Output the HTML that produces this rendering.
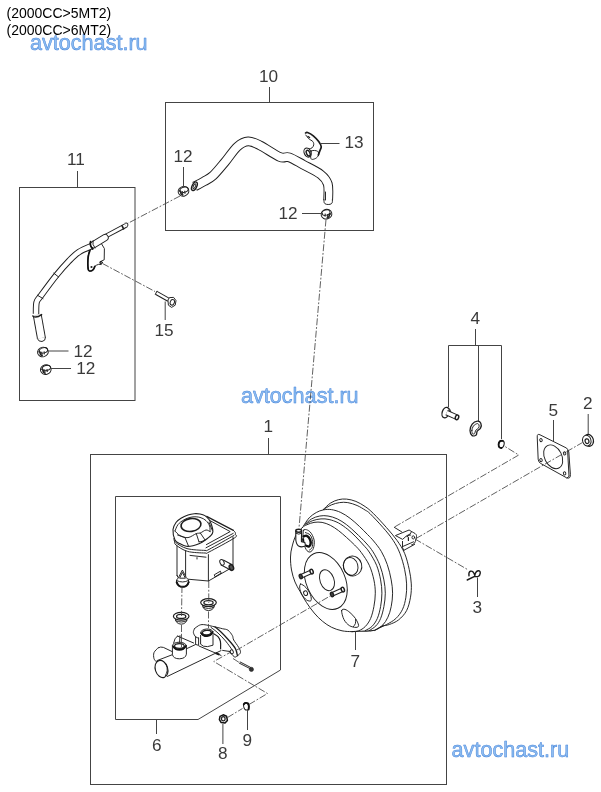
<!DOCTYPE html>
<html lang="en">
<head>
<meta charset="utf-8">
<title>Brake master cylinder and booster</title>
<style>
html,body{margin:0;padding:0;background:#fff;}
body{width:601px;height:792px;overflow:hidden;position:relative;font-family:"Liberation Sans",sans-serif;}
svg{position:absolute;left:0;top:0;display:block;will-change:transform;}
.t{font-family:"Liberation Sans",sans-serif;font-size:14px;fill:#000;}
.n{font-family:"Liberation Sans",sans-serif;font-size:17.2px;fill:#3a3a3a;}
.w{font-family:"Liberation Sans",sans-serif;font-size:21.6px;fill:#8fbef1;stroke:#4588dc;stroke-width:0.5;stroke-linejoin:round;}
.l{fill:none;stroke:#444;stroke-width:1;}
.p{fill:none;stroke:#1e1e1e;stroke-width:0.95;stroke-linejoin:round;stroke-linecap:round;}
.pf{fill:#fff;stroke:#1e1e1e;stroke-width:0.95;stroke-linejoin:round;stroke-linecap:round;}
.d{fill:none;stroke:#444;stroke-width:0.85;stroke-dasharray:7 1.8 1.8 1.8;}
</style>
</head>
<body>
<svg width="601" height="792" viewBox="0 0 601 792">
<rect x="0" y="0" width="601" height="792" fill="#fff"/>



<defs>
<filter id="glow" x="-5%" y="-30%" width="110%" height="160%">
<feGaussianBlur in="SourceAlpha" stdDeviation="0.55" result="b"/>
<feOffset in="b" dx="0.3" dy="0.3" result="o"/>
<feFlood flood-color="#c9dff8"/>
<feComposite in2="o" operator="in" result="g"/>
<feMerge><feMergeNode in="g"/><feMergeNode in="SourceGraphic"/></feMerge>
</filter>
</defs>
<g id="watermarks" filter="url(#glow)">
<text class="w" x="30" y="50.300">avtochast.ru</text>
<text class="w" x="241" y="403.300">avtochast.ru</text>
<text class="w" x="451.600" y="756.800">avtochast.ru</text>
</g>

<g id="title">
<text class="t" x="6.5" y="17.600">(2000CC&gt;5MT2)</text>
<text class="t" x="6.5" y="35">(2000CC&gt;6MT2)</text>
</g>

<g id="frames" class="l">
<rect x="19.5" y="187.5" width="115.5" height="213"/>
<rect x="165.5" y="102.5" width="208" height="128"/>
<rect x="90.5" y="454.5" width="356" height="330"/>
<path d="M115.5 496.5H280.5V670L198 719.5H115.5Z"/>
<path d="M448.5 407V345.5H501.5V439M478.5 345.5V421"/>
</g>

<g id="booster7">
<path class="pf" d="M303.5 525.9C305.72 523.02 307.17 519.93 309.3 517.7C311.43 515.47 313.97 513.8 316.3 512.5C318.63 511.2 320.97 511.45 323.3 509.9C325.63 508.35 327.78 504.9 330.3 503.2C332.82 501.5 335.68 500.38 338.4 499.7C341.12 499.02 343.68 498.82 346.6 499.1C349.52 499.38 352.8 500.15 355.9 501.4C359 502.65 362.32 504.62 365.2 506.6C368.08 508.58 369.65 509.8 373.2 513.3C376.75 516.8 382.53 523.08 386.5 527.6C390.47 532.12 393.98 536.12 397 540.4C400.02 544.68 402.57 548.48 404.6 553.3C406.63 558.12 408.08 564.2 409.2 569.3C410.32 574.4 411.08 579.25 411.3 583.9C411.52 588.55 411.28 592.75 410.5 597.2C409.72 601.65 408.58 606.82 406.6 610.6C404.62 614.38 401.48 617.58 398.6 619.9C395.72 622.22 391.97 623.5 389.3 624.5C386.63 625.5 385.05 624.9 382.6 625.9C380.15 626.9 377.48 629.65 374.6 630.5C371.72 631.35 367.97 630.88 365.3 631C362.63 631.12 360.82 631.1 358.6 631.2C356.38 631.3 354.77 631.67 352 631.6C349.23 631.53 345.4 631.52 342 630.8C338.6 630.08 334.87 628.9 331.6 627.3C328.33 625.7 325.3 623.58 322.4 621.2C319.5 618.82 316.87 616.13 314.2 613C311.53 609.87 308.77 606 306.4 602.4C304.03 598.8 301.9 594.8 300 591.4C298.1 588 296.42 585.57 295 582C293.58 578.43 292.25 574.17 291.5 570C290.75 565.83 290.42 560.83 290.5 557C290.58 553.17 291.08 550.67 292 547C292.92 543.33 294.08 538.52 296 535C297.92 531.48 301.28 528.78 303.5 525.9Z" style="stroke:none"/>
<path class="p" d="M323.3 509.6C324.47 508.53 327.78 504.85 330.3 503.2C332.82 501.55 335.68 500.38 338.4 499.7C341.12 499.02 343.68 498.82 346.6 499.1C349.52 499.38 352.8 500.15 355.9 501.4C359 502.65 362.32 504.62 365.2 506.6C368.08 508.58 369.65 509.8 373.2 513.3C376.75 516.8 382.53 523.08 386.5 527.6C390.47 532.12 393.98 536.12 397 540.4C400.02 544.68 402.57 548.48 404.6 553.3C406.63 558.12 408.08 564.2 409.2 569.3C410.32 574.4 411.08 579.25 411.3 583.9C411.52 588.55 411.28 592.75 410.5 597.2C409.72 601.65 408.58 606.82 406.6 610.6C404.62 614.38 401.48 617.58 398.6 619.9C395.72 622.22 391.97 623.5 389.3 624.5C386.63 625.5 383.72 625.67 382.6 625.9"/>
<path class="p" d="M323.3 509.6C324.65 508.82 328.68 506.07 331.4 504.9C334.12 503.73 336.87 502.98 339.6 502.6C342.33 502.22 344.88 502.12 347.8 502.6C350.72 503.08 354.2 504.25 357.1 505.5C360 506.75 363.05 508.75 365.2 510.1C367.35 511.45 367.03 510.7 370 513.6C372.97 516.5 379.13 523.03 383 527.5C386.87 531.97 390.38 536.1 393.2 540.4C396.02 544.7 398 548.48 399.9 553.3C401.8 558.12 403.48 564.2 404.6 569.3C405.72 574.4 406.38 579.25 406.6 583.9C406.82 588.55 406.57 592.98 405.9 597.2C405.23 601.42 404.27 605.65 402.6 609.2C400.93 612.75 398.57 615.95 395.9 618.5C393.23 621.05 389.27 623.05 386.6 624.5C383.93 625.95 381.02 626.75 379.9 627.2"/>
<path class="p" d="M303.5 525.9C304.47 524.53 307.17 519.93 309.3 517.7C311.43 515.47 313.97 513.8 316.3 512.5C318.63 511.2 320.78 510.38 323.3 509.9C325.82 509.42 328.48 509.17 331.4 509.6C334.32 510.03 337.68 511.05 340.8 512.5C343.92 513.95 347 515.98 350.1 518.3C353.2 520.62 356.48 523.68 359.4 526.4C362.32 529.12 365.23 532.17 367.6 534.6C369.97 537.03 371.32 538.2 373.6 541C375.88 543.8 379.02 547.47 381.3 551.4C383.58 555.33 385.65 559.85 387.3 564.6C388.95 569.35 390.32 575.13 391.2 579.9C392.08 584.67 392.6 588.75 392.6 593.2C392.6 597.65 391.98 602.6 391.2 606.6C390.42 610.6 389.33 614.1 387.9 617.2C386.47 620.3 384.82 622.98 382.6 625.2C380.38 627.42 375.93 629.62 374.6 630.5"/>
<path class="p" d="M304.7 524.7C305.85 523.73 309.08 520.35 311.6 518.9C314.12 517.45 317.07 516.48 319.8 516C322.53 515.52 325.08 515.52 328 516C330.92 516.48 334.2 517.45 337.3 518.9C340.4 520.35 343.48 522.35 346.6 524.7C349.72 527.05 352.77 529.95 356 533C359.23 536.05 363.17 539.87 366 543C368.83 546.13 370.68 548.08 373 551.8C375.32 555.52 378.08 560.62 379.9 565.3C381.72 569.98 383 575.25 383.9 579.9C384.8 584.55 385.3 588.75 385.3 593.2C385.3 597.65 384.68 602.38 383.9 606.6C383.12 610.82 381.93 615.28 380.6 618.5C379.27 621.72 377.78 623.9 375.9 625.9C374.02 627.9 370.4 629.73 369.3 630.5"/>
<path class="p" d="M305.8 524.1C306.97 523.52 310.27 521.47 312.8 520.6C315.33 519.73 318.28 519.08 321 518.9C323.72 518.72 326.2 518.83 329.1 519.5C332 520.17 335.28 521.25 338.4 522.9C341.52 524.55 344.88 527.07 347.8 529.4C350.72 531.73 353.3 534.3 355.9 536.9C358.5 539.5 361.18 542.48 363.4 545C365.62 547.52 367 548.62 369.2 552C371.4 555.38 374.7 560.65 376.6 565.3C378.5 569.95 379.72 575.25 380.6 579.9C381.48 584.55 381.9 588.75 381.9 593.2C381.9 597.65 381.37 602.38 380.6 606.6C379.83 610.82 378.75 615.18 377.3 618.5C375.85 621.82 373.9 624.5 371.9 626.5C369.9 628.5 366.4 629.83 365.3 630.5"/>
<path class="p" d="M302.3 527.6C304.13 525.88 305.05 525.57 307 524.7C308.95 523.83 311.48 522.78 314 522.4C316.52 522.02 319.38 521.92 322.1 522.4C324.82 522.88 327.58 523.95 330.3 525.3C333.02 526.65 335.68 528.47 338.4 530.5C341.12 532.53 343.9 535.08 346.6 537.5C349.3 539.92 352.17 542.52 354.6 545C357.03 547.48 358.75 549.02 361.2 552.4C363.65 555.78 367.18 560.72 369.3 565.3C371.42 569.88 372.9 575.25 373.9 579.9C374.9 584.55 375.3 588.75 375.3 593.2C375.3 597.65 374.68 602.38 373.9 606.6C373.12 610.82 372.03 615.18 370.6 618.5C369.17 621.82 367.3 624.45 365.3 626.5C363.3 628.55 360.82 629.95 358.6 630.8C356.38 631.65 354.77 631.6 352 631.6C349.23 631.6 345.4 631.52 342 630.8C338.6 630.08 334.87 628.9 331.6 627.3C328.33 625.7 325.3 623.58 322.4 621.2C319.5 618.82 316.87 616.13 314.2 613C311.53 609.87 308.77 606 306.4 602.4C304.03 598.8 301.9 594.8 300 591.4C298.1 588 296.42 585.57 295 582C293.58 578.43 292.25 574.17 291.5 570C290.75 565.83 290.42 560.83 290.5 557C290.58 553.17 291.08 550.67 292 547C292.92 543.33 294.28 538.23 296 535C297.72 531.77 300.47 529.32 302.3 527.6Z"/>
<path class="p" d="M352 631.6C353.1 631.55 356.38 631.38 358.6 631.3C360.82 631.22 363.52 631.17 365.3 631.1C367.08 631.03 367.75 631.03 369.3 630.9C370.85 630.77 372.83 630.85 374.6 630.3C376.37 629.75 378.5 628.35 379.9 627.6C381.3 626.85 382.48 626.1 383 625.8" style="stroke-width:1.15"/>
<ellipse class="p" cx="325.8" cy="581" rx="19.4" ry="29.8" transform="rotate(-24 325.8 581)"/>
<ellipse class="p" cx="327" cy="580.2" rx="7" ry="10.8" transform="rotate(-20 327 580.2)"/>
<ellipse class="p" cx="352.6" cy="566" rx="9.2" ry="10" transform="rotate(-15 352.6 566)"/>
<ellipse class="p" cx="350.7" cy="566.4" rx="7.2" ry="9" transform="rotate(-15 350.7 566.4)"/>
<path class="p" d="M341.6 610.6C341.77 608.9 343.6 609.07 345 609.4C346.4 609.73 348.27 611.1 350 612.6C351.73 614.1 353.97 616.27 355.4 618.4C356.83 620.53 358.5 623.9 358.6 625.4C358.7 626.9 357.53 627.37 356 627.4C354.47 627.43 351.4 626.9 349.4 625.6C347.4 624.3 345.3 622.1 344 619.6C342.7 617.1 341.43 612.3 341.6 610.6Z"/>
<path class="p" d="M355.6 619.4C355.57 620.1 355.77 622.4 355.4 623.6C355.03 624.8 353.73 626.1 353.4 626.6"/>
<path class="p" d="M300.6 584C301.63 583.87 304.37 585.83 306 587.6C307.63 589.37 309.57 592.43 310.4 594.6C311.23 596.77 311.63 599.7 311 600.6C310.37 601.5 308.1 601 306.6 600C305.1 599 303.13 596.53 302 594.6C300.87 592.67 300.03 590.17 299.8 588.4C299.57 586.63 299.57 584.13 300.6 584Z"/>
<ellipse class="p" cx="305.6" cy="593.2" rx="1.9" ry="2.4" transform="rotate(-20 305.6 593.2)"/>
<path d="M300.4 576.6 L311.6 571.6" fill="none" stroke="#1e1e1e" stroke-width="4.55" stroke-linecap="butt" stroke-linejoin="round"/>
<path d="M300.4 576.6 L311.6 571.6" fill="none" stroke="#fff" stroke-width="2.65" stroke-linecap="butt" stroke-linejoin="round"/>
<ellipse class="pf" cx="311.6" cy="571.6" rx="1.5" ry="2.4" transform="rotate(-20 311.6 571.6)" style="stroke-width:1.5"/>
<ellipse class="pf" cx="300.8" cy="576.5" rx="1.5" ry="2.3" transform="rotate(-20 300.8 576.5)" style="stroke-width:1.3;fill:#444"/>
<path d="M331.6 594.6 L342.8 589.6" fill="none" stroke="#1e1e1e" stroke-width="4.55" stroke-linecap="butt" stroke-linejoin="round"/>
<path d="M331.6 594.6 L342.8 589.6" fill="none" stroke="#fff" stroke-width="2.65" stroke-linecap="butt" stroke-linejoin="round"/>
<ellipse class="pf" cx="342.8" cy="589.6" rx="1.5" ry="2.4" transform="rotate(-20 342.8 589.6)" style="stroke-width:1.5"/>
<ellipse class="pf" cx="332" cy="594.5" rx="1.5" ry="2.3" transform="rotate(-20 332 594.5)" style="stroke-width:1.3;fill:#444"/>
<path class="pf" d="M303.7 530C304.8 528.47 308.27 530.13 310 531.8C311.73 533.47 313.53 537.25 314.1 540C314.67 542.75 314.08 546.3 313.4 548.3C312.72 550.3 311.2 551.78 310 552C308.8 552.22 307.3 551.43 306.2 549.6C305.1 547.77 303.82 544.27 303.4 541C302.98 537.73 302.6 531.53 303.7 530Z"/>
<path class="p" d="M305.4 532.6C306.2 533 309 533.53 310.2 535C311.4 536.47 312.3 539.3 312.6 541.4C312.9 543.5 312.53 546.17 312 547.6C311.47 549.03 309.83 549.6 309.4 550"/>
<path d="M303.6 536.4C304.13 536.3 305.73 535.3 306.8 535.8C307.87 536.3 309.37 538.03 310 539.4C310.63 540.77 310.8 542.8 310.6 544C310.4 545.2 309.47 546.3 308.8 546.6C308.13 546.9 306.97 545.93 306.6 545.8" fill="none" stroke="#111" stroke-width="2.4" stroke-linecap="round"/>
<path d="M303 538.4L303.4 541.6" fill="none" stroke="#111" stroke-width="2"/>
<path class="pf" d="M295.8 531.4V540Q296.4 544.6 298.6 546Q301.6 547.8 305.6 545.8L304.8 542.4L301.4 541.6L301.6 531.6Z" style="stroke-width:1.1"/>
<ellipse class="pf" cx="298.7" cy="530.8" rx="2.9" ry="1.5" style="stroke-width:1.5"/>
<path class="p" d="M296 533.4Q298.7 535 301.5 533.4"/>
<path class="pf" d="M395.8 535.4L409.1 530L411.6 531.6L410 534.1L406.6 535.8L402.9 539.1Z"/>
<path class="p" d="M411.6 531.6C412.37 532.1 415.47 533.35 416.2 534.6C416.93 535.85 416.3 537.63 416 539.1C415.7 540.57 415.13 542.45 414.4 543.4C413.67 544.35 412.07 544.57 411.6 544.8"/>
<path class="p" d="M402.5 546.6L413.6 541.8M403.7 550.4L414.6 544.4M402.5 541.4V547.4L403.7 550.4"/>
<path class="p" d="M407 536.6Q408.4 535 410.6 535M408.4 537.6V540.4" style="stroke-width:1.2"/>
<ellipse class="p" cx="413.3" cy="537.4" rx="1.3" ry="1.6"/>
<path class="p" d="M394.4 527.4L401.6 531.8"/>
</g>



<g id="reservoir">
<path class="p" d="M177 546V575.6M185.600 551V578.6M208.400 554.6V580.8M233 537V566.6"/>
<path class="p" d="M188 579.2L208.4 581L233 567"/>
<path class="p" d="M177 575.4Q177 578 180 578.6"/>
<path class="p" d="M174.6 541C174.83 541.67 173.83 543.27 176 545C178.17 546.73 182.77 550.07 187.6 551.4C192.43 552.73 201.43 552.9 205 553C208.57 553.1 204.1 554.5 209 552C213.9 549.5 230 540.9 234.4 538C238.8 535.1 235.27 535.53 235.4 534.6C235.53 533.67 235.53 533.1 235.2 532.4C234.87 531.7 233.7 530.73 233.4 530.4"/>
<path class="p" d="M174 538.4C174.27 539.07 173.43 540.7 175.6 542.4C177.77 544.1 182.1 547.27 187 548.6C191.9 549.93 201.33 550.27 205 550.4C208.67 550.53 204.17 551.9 209 549.4C213.83 546.9 229.83 537.73 234 535.4"/>
<path class="p" d="M206.6 516.4L233.4 530.4" style="stroke-width:1.2"/>
<path class="p" d="M209.6 520.4L230.2 531.6L206.4 544.6"/>
<path class="p" d="M206 547.8L233.2 533.4"/>
<path class="p" d="M190 555.4L206 557.2M197 557.6V559"/>
<path class="pf" d="M173 529.5C173.17 526.58 174.67 524.37 176 522.5C177.33 520.63 179 519.55 181 518.3C183 517.05 185.78 515.77 188 515C190.22 514.23 192.3 513.87 194.3 513.7C196.3 513.53 198.23 513.68 200 514C201.77 514.32 203.4 514.68 204.9 515.6C206.4 516.52 207.88 517.93 209 519.5C210.12 521.07 210.95 522.98 211.6 525C212.25 527.02 213 529.87 212.9 531.6C212.8 533.33 212.32 533.95 211 535.4C209.68 536.85 206.9 538.93 205 540.3C203.1 541.67 201.6 542.68 199.6 543.6C197.6 544.52 195.22 545.35 193 545.8C190.78 546.25 188.47 546.67 186.3 546.3C184.13 545.93 181.88 544.65 180 543.6C178.12 542.55 176.17 542.35 175 540C173.83 537.65 172.83 532.42 173 529.5Z" style="stroke-width:1.1"/>
<path class="p" d="M175 531C175.5 529.93 176.5 526.47 178 524.6C179.5 522.73 181.67 521.07 184 519.8C186.33 518.53 189.33 517.4 192 517C194.67 516.6 197.67 516.8 200 517.4C202.33 518 204.4 519.17 206 520.6C207.6 522.03 208.93 524.17 209.6 526C210.27 527.83 209.93 530.67 210 531.6"/>
<path class="p" d="M175 531C175.83 531.77 177.83 534.5 180 535.6C182.17 536.7 185.28 537.93 188 537.6C190.72 537.27 194.25 534.37 196.3 533.6C198.35 532.83 198.68 533.6 200.3 533C201.92 532.4 204.38 530.23 206 530C207.62 529.77 209.33 531.33 210 531.6"/>
<ellipse class="pf" cx="191" cy="525" rx="10" ry="6.4" transform="rotate(-8 191 525)" style="stroke-width:1.6"/>
<path class="p" d="M177.6 535L185 537.6L188.3 545.6"/>
<path class="p" d="M196.3 533.6L199 541.8M200.3 533L205 539.9"/>
<path class="p" d="M209 522.3L212.3 530.3"/>
<path class="p" d="M199 541.8C199.5 541.73 201 541.72 202 541.4C203 541.08 204.5 540.15 205 539.9"/>
<path d="M222 562.4 L231.4 567.4" fill="none" stroke="#1e1e1e" stroke-width="6.35" stroke-linecap="butt" stroke-linejoin="round"/>
<path d="M222 562.4 L231.4 567.4" fill="none" stroke="#fff" stroke-width="4.45" stroke-linecap="butt" stroke-linejoin="round"/>
<ellipse class="pf" cx="222" cy="562.4" rx="2" ry="3" transform="rotate(-25 222 562.4)"/>
<ellipse class="pf" cx="231.4" cy="567.5" rx="2" ry="3" transform="rotate(-25 231.4 567.5)" style="stroke-width:1.4;fill:#555"/>
<path class="p" d="M214.6 574.6L220.4 571.2L221.2 573.2L215.4 576.6Z"/>
<path class="pf" d="M182.2 570.4L178.4 577.8Q175.8 579.8 176.4 582.6Q177.8 587 182.6 587Q187.6 587 188.8 582.6Q189.4 579.6 186.6 577.8Z"/>
<path d="M176.8 582.2Q178.2 586.8 182.6 586.8Q187.2 586.8 188.6 582.2" fill="none" stroke="#111" stroke-width="2" stroke-linecap="round"/>
<path class="p" d="M182.2 572.8L179.6 578.2L185 578.2Z"/>
<path class="p" d="M176.8 580.6Q182.6 583.6 188.6 580.4"/>
</g>
<g id="grommets">
<path class="pf" d="M175.2 618.2Q175.4 623.8 181.2 624.2Q187 623.8 187.2 618.2"/>
<path class="p" d="M175.6 620.6Q181.2 623.6 186.8 620.6"/>
<ellipse class="pf" cx="181.2" cy="616.2" rx="7.8" ry="3.9" style="stroke-width:1.2"/>
<ellipse class="p" cx="181.2" cy="616.4" rx="4.6" ry="2.1" style="stroke-width:1.3"/>
<path class="pf" d="M202.5 604.6Q202.7 610.2 208.5 610.6Q214.3 610.2 214.5 604.6"/>
<path class="p" d="M202.9 607Q208.5 610 214.1 607"/>
<ellipse class="pf" cx="208.5" cy="602.6" rx="7.8" ry="3.9" style="stroke-width:1.2"/>
<ellipse class="p" cx="208.5" cy="602.8" rx="4.6" ry="2.1" style="stroke-width:1.3"/>
</g>
<g id="mastercyl">
<path class="p" d="M167.4 676.4L221 650.6"/>
<path class="p" d="M157 660.6L172.6 654.6"/>
<path class="p" d="M156.6 662C156.17 661.43 154.43 660.17 154 658.6C153.57 657.03 153.3 654.4 154 652.6C154.7 650.8 157.5 648.6 158.2 647.8"/>
<path class="p" d="M158.2 647.8Q160.6 646.4 163.4 647.4L172.6 651.8"/>
<ellipse class="pf" cx="161.5" cy="669" rx="6.2" ry="8.8" transform="rotate(-18 161.5 669)" style="stroke-width:1.1"/>
<path class="p" d="M163.4 661.4C163.9 662 165.77 663.47 166.4 665C167.03 666.53 167.37 668.83 167.2 670.6C167.03 672.37 165.7 674.77 165.4 675.6"/>
<path class="pf" d="M172.4 645.8V654.6Q173.4 658.8 179.4 658.8Q185.6 658.6 186.4 654.2V645.8"/>
<ellipse class="pf" cx="179.4" cy="645.8" rx="7" ry="3.6"/>
<path d="M173.6 646.4Q175 649.8 179.4 649.8Q184 649.8 185.4 646.2" fill="none" stroke="#111" stroke-width="1.9" stroke-linecap="round"/>
<ellipse class="p" cx="179.4" cy="646" rx="4.8" ry="2.3" style="stroke-width:1.2"/>
<path class="p" d="M177.4 636L193.6 643M177.4 636Q174.4 638 173.6 643M180 635.6L179.6 642.4"/>
<path class="p" d="M186.4 648.8L195.4 644.6"/>
<path class="pf" d="M194.4 628.8C195.1 628.27 197.05 626.3 198.6 625.6C200.15 624.9 200.97 624.38 203.7 624.6C206.43 624.82 211.88 626.22 215 626.9C218.12 627.58 220.23 628.15 222.4 628.7C224.57 629.25 226.33 629.05 228 630.2C229.67 631.35 231.45 633.97 232.4 635.6C233.35 637.23 232.65 638.03 233.7 640C234.75 641.97 237.57 645.33 238.7 647.4C239.83 649.47 240.72 651 240.5 652.4C240.28 653.8 238.43 655.07 237.4 655.8C236.37 656.53 235.65 657.57 234.3 656.8C232.95 656.03 230.13 652.13 229.3 651.2"/>
<path class="p" d="M215 626.9C216 627.75 218.73 629.82 221 632C223.27 634.18 226.2 637.23 228.6 640C231 642.77 233.93 646 235.4 648.6C236.87 651.2 237.07 654.43 237.4 655.6" style="stroke-width:1.3"/>
<path class="p" d="M211 627.4C212.17 628.33 215.57 630.73 218 633C220.43 635.27 223.27 638.23 225.6 641C227.93 643.77 230.93 648.17 232 649.6"/>
<path class="p" d="M195.6 636.8V644.4L198.6 645.4V638"/>
<path class="p" d="M194.4 628.8C194.23 629.43 193.2 631.27 193.4 632.6C193.6 633.93 194.73 635.9 195.6 636.8C196.47 637.7 198.1 637.8 198.6 638"/>
<path class="pf" d="M200.6 635.4V644.2Q202.6 647 207.6 646.6L213 645.2V634.6"/>
<ellipse class="pf" cx="206.8" cy="632.4" rx="6.2" ry="3.4" transform="rotate(-5 206.8 632.4)"/>
<path d="M201.6 633.4Q203.4 636.2 207 636Q211 635.6 212.2 632.4" fill="none" stroke="#111" stroke-width="2" stroke-linecap="round"/>
<ellipse class="p" cx="206.8" cy="632.6" rx="4.4" ry="2.2" transform="rotate(-5 206.8 632.6)" style="stroke-width:1.2"/>
<path class="p" d="M213.7 633.7C214.42 634.18 216.88 635.32 218 636.6C219.12 637.88 219.97 639.37 220.4 641.4C220.83 643.43 220.57 647.57 220.6 648.8" style="stroke-width:1.2"/>
<path class="p" d="M199 646L221 655.4"/>
<ellipse class="p" cx="231.8" cy="651.8" rx="1.5" ry="2.1" transform="rotate(-20 231.8 651.8)"/>
<path d="M215.6 653L219.4 654.6" fill="none" stroke="#1a1a1a" stroke-width="2"/>
<path class="p" d="M222.6 650.4L229 651.4"/>
<path class="p" d="M239.4 663.2L250 668.6M240.2 662L250.6 667.4"/>
<circle cx="251.4" cy="669.4" r="2.1" fill="#333" stroke="#222" stroke-width="0.6"/>
</g>

<g id="hose10">
<path d="M194.6 186.4C196.17 185.57 200.93 183.18 204 181.4C207.07 179.62 209.5 178.93 213 175.7C216.5 172.47 220.93 166.85 225 162C229.07 157.15 233.53 150.03 237.4 146.6C241.27 143.17 244.43 141.6 248.2 141.4C251.97 141.2 254.7 142.8 260 145.4C265.3 148 275.17 155.02 280 157C284.83 158.98 285.12 156.02 289 157.3C292.88 158.58 298.02 161.83 303.3 164.7C308.58 167.57 316.62 171.28 320.7 174.5C324.78 177.72 326.55 179.75 327.8 184C329.05 188.25 328.13 197.33 328.2 200" fill="none" stroke="#1e1e1e" stroke-width="9.75" stroke-linecap="butt" stroke-linejoin="round"/>
<path d="M194.6 186.4C196.17 185.57 200.93 183.18 204 181.4C207.07 179.62 209.5 178.93 213 175.7C216.5 172.47 220.93 166.85 225 162C229.07 157.15 233.53 150.03 237.4 146.6C241.27 143.17 244.43 141.6 248.2 141.4C251.97 141.2 254.7 142.8 260 145.4C265.3 148 275.17 155.02 280 157C284.83 158.98 285.12 156.02 289 157.3C292.88 158.58 298.02 161.83 303.3 164.7C308.58 167.57 316.62 171.28 320.7 174.5C324.78 177.72 326.55 179.75 327.8 184C329.05 188.25 328.13 197.33 328.2 200" fill="none" stroke="#fff" stroke-width="7.85" stroke-linecap="butt" stroke-linejoin="round"/>
<path class="pf" d="M324 199.5V201.5Q324 204.5 328.2 204.5Q332.4 204.5 332.4 201.5V199.5"/>
<path class="p" d="M325.5 192V200"/>
<ellipse class="pf" cx="194.4" cy="186.2" rx="2.3" ry="4.6" transform="rotate(25 194.4 186.2)" style="stroke-width:1.4"/>
<ellipse class="p" cx="194.4" cy="186.2" rx="1" ry="2.6" transform="rotate(25 194.4 186.2)"/>
</g>
<g id="clamps12">
<ellipse class="pf" cx="183.5" cy="191.3" rx="5.4" ry="4.8" transform="rotate(-15 183.5 191.3)"/>
<ellipse class="p" cx="184.1" cy="189.7" rx="4.2" ry="2.6" transform="rotate(-15 184.1 189.7)"/>
<path d="M179 190.8l1.5 0.5l0.6 2.6l2.2 1.5" fill="none" stroke="#222" stroke-width="1.6"/>
<path d="M182.3 191.1l0.3 3.2M184.7 190.7l0.3 3" fill="none" stroke="#333" stroke-width="1.2"/>
<ellipse class="pf" cx="326.5" cy="214.2" rx="5.4" ry="4.8" transform="rotate(-15 326.5 214.2)"/>
<ellipse class="p" cx="325.9" cy="212.6" rx="4.2" ry="2.6" transform="rotate(-15 325.9 212.6)"/>
<path d="M331 213.7l-1.5 0.5l-0.6 2.6l-2.2 1.5" fill="none" stroke="#222" stroke-width="1.6"/>
<path d="M327.7 214l-0.3 3.2M325.3 213.6l-0.3 3" fill="none" stroke="#333" stroke-width="1.2"/>
<ellipse class="pf" cx="42.9" cy="352" rx="5.4" ry="4.8" transform="rotate(-15 42.9 352)"/>
<ellipse class="p" cx="43.5" cy="350.4" rx="4.2" ry="2.6" transform="rotate(-15 43.5 350.4)"/>
<path d="M38.4 351.5l1.5 0.5l0.6 2.6l2.2 1.5" fill="none" stroke="#222" stroke-width="1.6"/>
<path d="M41.7 351.8l0.3 3.2M44.1 351.4l0.3 3" fill="none" stroke="#333" stroke-width="1.2"/>
<ellipse class="pf" cx="45.8" cy="369.6" rx="5.4" ry="4.8" transform="rotate(-15 45.8 369.6)"/>
<ellipse class="p" cx="46.4" cy="368" rx="4.2" ry="2.6" transform="rotate(-15 46.4 368)"/>
<path d="M41.3 369.1l1.5 0.5l0.6 2.6l2.2 1.5" fill="none" stroke="#222" stroke-width="1.6"/>
<path d="M44.6 369.4l0.3 3.2M47 369l0.3 3" fill="none" stroke="#333" stroke-width="1.2"/>
</g>
<g id="bracket13">
<path class="pf" d="M311.6 150.8C312.75 150.03 316.33 150.5 317.5 151.2C318.67 151.9 318.88 153.82 318.6 155C318.32 156.18 316.97 157.58 315.8 158.3C314.63 159.02 312.47 159.72 311.6 159.3C310.73 158.88 310.6 157.22 310.6 155.8C310.6 154.38 310.45 151.57 311.6 150.8Z"/>
<path d="M305.6 133C305.92 132.92 306.22 132.03 307.5 132.5C308.78 132.97 311.43 134.28 313.3 135.8C315.17 137.32 317.38 139.8 318.7 141.6C320.02 143.4 320.98 145.13 321.2 146.6C321.42 148.07 320.48 149 320 150.4C319.52 151.8 318.58 154.23 318.3 155" fill="none" stroke="#1a1a1a" stroke-width="1.7" stroke-linecap="round" stroke-linejoin="round"/>
<path class="p" d="M305.8 135C306.28 135.62 307.52 137.6 308.7 138.7C309.88 139.8 312.07 140.55 312.9 141.6C313.73 142.65 313.85 143.95 313.7 145C313.55 146.05 312.72 147.27 312 147.9C311.28 148.53 309.83 148.65 309.4 148.8"/>
<ellipse class="pf" cx="307.6" cy="152.6" rx="3.4" ry="4.7" transform="rotate(-25 307.6 152.6)" style="stroke-width:1.1"/>
<ellipse class="p" cx="308.2" cy="153.2" rx="1.7" ry="3" transform="rotate(-25 308.2 153.2)" style="stroke-width:1.4"/>
<path class="p" d="M308 136.4L309.6 137.6" style="stroke-width:1.3"/>
</g>
<g id="tube11">
<path class="pf" d="M90.5 247.5C90.08 249.08 88.42 253.42 88 257C87.58 260.58 87.67 266.63 88 269C88.33 271.37 89.08 271.1 90 271.2C90.92 271.3 92.67 270.43 93.5 269.6C94.33 268.77 94.17 267.07 95 266.2C95.83 265.33 97.47 264.67 98.5 264.4C99.53 264.13 100.75 264.57 101.2 264.6L100.4 261.6L104.2 259.8L104.4 248.6L101.4 243.6"/>
<path d="M90.4 249C90.03 250.33 88.57 253.67 88.2 257C87.83 260.33 87.9 266.67 88.2 269C88.5 271.33 89.17 270.9 90 271C90.83 271.1 92.4 270.37 93.2 269.6C94 268.83 94.53 266.93 94.8 266.4" fill="none" stroke="#111" stroke-width="1.7" stroke-linecap="round" stroke-linejoin="round"/>
<circle cx="91.5" cy="267" r="1.1" fill="#222"/>
<ellipse class="p" cx="101" cy="262.6" rx="1.3" ry="1.3"/>
<path d="M106 236 L125.6 225.6" fill="none" stroke="#1e1e1e" stroke-width="4.75" stroke-linecap="butt" stroke-linejoin="round"/>
<path d="M106 236 L125.6 225.6" fill="none" stroke="#fff" stroke-width="2.85" stroke-linecap="butt" stroke-linejoin="round"/>
<path class="p" d="M122 225.6L123.600 228.8" style="stroke-width:1.6"/>
<path class="p" d="M125 223.2L127.2 223L128 225L126.8 227.4"/>
<path d="M93.4 245.2C91 246.33 83.08 249.37 79 252C74.92 254.63 72.72 257.07 68.9 261C65.08 264.93 60.82 269.73 56.1 275.6C51.38 281.47 43.85 291.77 40.6 296.2C37.35 300.63 37.37 299.23 36.6 302.2C35.83 305.17 36.1 312.03 36 314" fill="none" stroke="#1e1e1e" stroke-width="6.45" stroke-linecap="butt" stroke-linejoin="round"/>
<path d="M93.4 245.2C91 246.33 83.08 249.37 79 252C74.92 254.63 72.72 257.07 68.9 261C65.08 264.93 60.82 269.73 56.1 275.6C51.38 281.47 43.85 291.77 40.6 296.2C37.35 300.63 37.37 299.23 36.6 302.2C35.83 305.17 36.1 312.03 36 314" fill="none" stroke="#fff" stroke-width="4.55" stroke-linecap="butt" stroke-linejoin="round"/>
<path class="p" d="M53.8 273.2L58.6 277"/>
<path class="p" d="M37.4 295.2L43 298.6"/>
<path d="M93.6 244.6 L105 237.6" fill="none" stroke="#1e1e1e" stroke-width="7.35" stroke-linecap="round" stroke-linejoin="round"/>
<path d="M93.6 244.6 L105 237.6" fill="none" stroke="#fff" stroke-width="5.45" stroke-linecap="round" stroke-linejoin="round"/>
<path d="M90.6 241.6Q89.400 245.2 92.6 249" fill="none" stroke="#111" stroke-width="1.8" stroke-linecap="round"/>
<path class="p" d="M93 240.6Q91.800 244.4 95 248"/>
<path d="M37.3 315.2 L41.4 338" fill="none" stroke="#1e1e1e" stroke-width="8.95" stroke-linecap="butt" stroke-linejoin="round"/>
<path d="M37.3 315.2 L41.4 338" fill="none" stroke="#fff" stroke-width="7.05" stroke-linecap="butt" stroke-linejoin="round"/>
<path class="pf" d="M37.4 338.8Q38.5 341.9 42 341.5Q45.6 341 45.5 337.4"/>
<path class="p" d="M32.8 316Q36 318.6 41.6 314.6" style="stroke-width:1.5"/>
</g>
<g id="bolt15">
<path d="M156.2 292.8 L168.6 299.8" fill="none" stroke="#1e1e1e" stroke-width="4.35" stroke-linecap="butt" stroke-linejoin="round"/>
<path d="M156.2 292.8 L168.6 299.8" fill="none" stroke="#fff" stroke-width="2.45" stroke-linecap="butt" stroke-linejoin="round"/>
<path class="p" d="M156.9 291.2L155.4 294.2"/>
<path class="pf" d="M169.8 297.6L173.6 297.4L176 300.6L175.2 305.2L171.6 307.4L168.4 305.2L168 300.4Z"/>
<ellipse class="p" cx="172.3" cy="302.3" rx="2.1" ry="2.9" transform="rotate(20 172.3 302.3)"/>
</g>
<g id="parts4">
<ellipse class="pf" cx="445.6" cy="412.6" rx="3.4" ry="5.4" transform="rotate(18 445.6 412.6)" style="stroke-width:1.3"/>
<path d="M446.6 412.6 L456.4 417" fill="none" stroke="#1e1e1e" stroke-width="5.55" stroke-linecap="butt" stroke-linejoin="round"/>
<path d="M446.6 412.6 L456.4 417" fill="none" stroke="#fff" stroke-width="3.65" stroke-linecap="butt" stroke-linejoin="round"/>
<ellipse class="pf" cx="457" cy="417.4" rx="1.6" ry="2.4" transform="rotate(20 457 417.4)" style="stroke-width:1.5"/>
<path class="p" d="M447.4 407.6C447.83 407.9 449.47 408.73 450 409.4C450.53 410.07 450.5 411.23 450.6 411.6"/>
<path class="pf" d="M470 430.6C470 428.7 470.97 425.77 472.2 424.2C473.43 422.63 475.97 421.37 477.4 421.2C478.83 421.03 480.27 422.07 480.8 423.2C481.33 424.33 481.2 426.67 480.6 428C480 429.33 477.93 430.03 477.2 431.2C476.47 432.37 477.03 434.27 476.2 435C475.37 435.73 473.23 436.33 472.2 435.6C471.17 434.87 470 432.5 470 430.6Z" style="stroke-width:1.3"/>
<path class="p" d="M471.8 430.6C471.9 429.3 472.5 427.17 473.4 426C474.3 424.83 476.27 423.77 477.2 423.6C478.13 423.43 478.77 424.27 479 425C479.23 425.73 479.17 427.1 478.6 428C478.03 428.9 476.23 429.5 475.6 430.4C474.97 431.3 475.27 432.83 474.8 433.4C474.33 433.97 473.3 434.27 472.8 433.8C472.3 433.33 471.7 431.9 471.8 430.6Z"/>
<ellipse class="pf" cx="501.4" cy="444.2" rx="2.7" ry="3.7" transform="rotate(15 501.4 444.2)" style="stroke-width:1.1"/>
<path d="M502.6 440.8Q498.8 440.4 498.6 444.4Q498.6 448.2 501.4 448" fill="none" stroke="#111" stroke-width="1.8" stroke-linecap="round"/>
</g>
<g id="plate5">
<path class="pf" d="M537.2 436.6Q537 433.4 540 434.8L566 447.8Q568.6 449.2 568.8 452L570.4 474.6Q570.6 479.2 566.6 477.8L540.6 463.4Q538.4 462.2 538.2 459.6Z"/>
<path class="p" d="M567 478L569 476.4"/>
<ellipse class="p" cx="553.2" cy="456.8" rx="8.6" ry="12.6" transform="rotate(-27 553.2 456.8)"/>
<path class="p" d="M567.6 450.6L569 476"/>
<ellipse class="p" cx="541" cy="440.1" rx="1.2" ry="1.6" transform="rotate(-20 541 440.1)"/>
<ellipse class="p" cx="564.6" cy="453.4" rx="1.2" ry="1.6" transform="rotate(-20 564.6 453.4)"/>
<ellipse class="p" cx="541" cy="460.1" rx="1.2" ry="1.6" transform="rotate(-20 541 460.1)"/>
<ellipse class="p" cx="564.6" cy="473.4" rx="1.2" ry="1.6" transform="rotate(-20 564.6 473.4)"/>
</g>
<g id="nut2">
<ellipse class="pf" cx="588.6" cy="440.4" rx="4.8" ry="6" transform="rotate(-15 588.6 440.4)" style="stroke-width:1.2"/>
<ellipse class="pf" cx="586.8" cy="440.6" rx="4.2" ry="5.4" transform="rotate(-15 586.8 440.6)"/>
<ellipse class="p" cx="587" cy="441.2" rx="1.9" ry="2.4" transform="rotate(-15 587 441.2)" style="stroke-width:1.2"/>
</g>
<g id="clip3">
<path d="M467.2 580L474.6 576.4Q479.6 577.6 480.2 573.4Q480.6 570.6 478.2 570.8Q475.4 571.4 474.8 575.6Q473.6 570.4 470.4 571.2Q468.4 572.2 469 575.8" fill="none" stroke="#1a1a1a" stroke-width="1.4" stroke-linecap="round" stroke-linejoin="round"/>
</g>
<g id="nut8">
<path d="M220 716.4L223.2 714.8L226.6 716.2L227.4 720.4L225 723L221.2 722.6L219.4 719.6Z" fill="#fff" stroke="#111" stroke-width="1.5" stroke-linejoin="round"/>
<ellipse class="p" cx="223.3" cy="718.8" rx="1.8" ry="2.1" style="stroke-width:1.2"/>
<ellipse class="pf" cx="246.2" cy="706.4" rx="2.5" ry="3.7" transform="rotate(-15 246.2 706.4)"/>
<path d="M243.8 704.4Q245.6 701.8 248.2 703.6Q249.6 706 248.6 709.6" fill="none" stroke="#111" stroke-width="1.9" stroke-linecap="round"/>
</g>

<g id="dash" class="d">
<path d="M180 196L127.500 223.500"/>
<path d="M102.500 263.500L155 291.500"/>
<path d="M326 219.500L299 528"/>
<path d="M394.500 527L518.750 455L505 446.500"/>
<path d="M416 538.500L582.500 442.500"/>
<path d="M415 539L467.500 569.500"/>
<path d="M236 650.500L331 595.500"/>
<path d="M227.500 717.500L242.500 708.500M249 704.500L267.500 693.500L213.750 661.500L230 652.500"/>
<path d="M233 658.500L240 663"/>
<path d="M182 586L181.500 616M181.500 625V634"/><path d="M181.500 634V647" stroke-dasharray="none"/>
<path d="M208.750 581V603M208.500 611.500V628"/>
</g>

<g id="leaders" class="l">
<path d="M77.5 171V187.5"/>
<path d="M269.5 87V102.5"/>
<path d="M268.5 438V454.5"/>
<path d="M156.5 719.5V734"/>
<path d="M222.900 724V744"/>
<path d="M247.5 710V730"/>
<path d="M355.5 631.5V650"/>
<path d="M477.5 577.5V597"/>
<path d="M475.5 329V345.5"/>
<path d="M553.5 420V441"/>
<path d="M588.200 414V434"/>
<path d="M320.500 143.5H339.5"/>
<path d="M183.5 167V187"/>
<path d="M302 213.5H323"/>
<path d="M165.200 301.500V320"/>
<path d="M48 351H68.500"/>
<path d="M51 368.5H71"/>
</g>

<g id="labels">
<text class="n" x="67" y="165">11</text>
<text class="n" x="259" y="81.500">10</text>
<text class="n" x="263.500" y="431.500">1</text>
<text class="n" x="152" y="750.500">6</text>
<text class="n" x="218" y="759">8</text>
<text class="n" x="242.500" y="746">9</text>
<text class="n" x="350.500" y="667">7</text>
<text class="n" x="472.500" y="612.900">3</text>
<text class="n" x="470.500" y="324">4</text>
<text class="n" x="548.500" y="416">5</text>
<text class="n" x="583" y="409">2</text>
<text class="n" x="344.500" y="148">13</text>
<text class="n" x="173.500" y="162">12</text>
<text class="n" x="278.500" y="218.800">12</text>
<text class="n" x="154.500" y="336">15</text>
<text class="n" x="73.500" y="357">12</text>
<text class="n" x="76.300" y="373.700">12</text>
</g>


</svg>
</body>
</html>
